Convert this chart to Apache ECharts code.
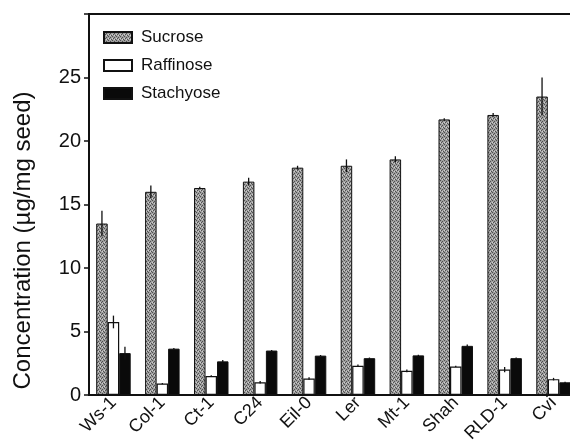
<!DOCTYPE html>
<html lang="en">
<head>
	<meta charset="UTF-8">
	<title>Sugar concentration in seeds</title>
	<script src="https://cdn.jsdelivr.net/npm/echarts@6/dist/echarts.min.js"></script>
	<style>
		html, body { margin: 0; padding: 0; background: #fff; }
	</style>
</head>
<body>
	<div id="main" style="width: 570px;height: 443px"></div>
	<script>
	// accessions along the x axis
	var categories = ['Ws-1', 'Col-1', 'Ct-1', 'C24', 'Eil-0', 'Ler', 'Mt-1', 'Shah', 'RLD-1', 'Cvi'];

	// concentrations (µg/mg seed)
	var sucrose   = [13.5, 16.0, 16.3, 16.8, 17.9, 18.05, 18.55, 21.7, 22.05, 23.5];
	var raffinose = [5.75, 0.9, 1.5, 1.0, 1.3, 2.3, 1.9, 2.25, 2.0, 1.25];
	var stachyose = [3.3, 3.65, 2.65, 3.5, 3.1, 2.9, 3.12, 3.87, 2.9, 1.0];

	// error bar half-lengths
	var sucroseErr   = [1.0, 0.5, 0.1, 0.3, 0.15, 0.5, 0.25, 0.1, 0.15, 1.5];
	var raffinoseErr = [0.5, 0.05, 0.05, 0.1, 0.1, 0.1, 0.1, 0.05, 0.2, 0.1];
	var stachyoseErr = [0.5, 0.05, 0.1, 0.05, 0.05, 0.05, 0.05, 0.1, 0.05, 0.05];

	var yTicks = [0, 5, 10, 15, 20, 25];

	var BAR_W = 11.5;
	var FONT = '"Liberation Sans", Arial, sans-serif';

	// stippled grey fill for sucrose
	function stipple(){
		var c = document.createElement('canvas');
		c.width = 4; c.height = 4;
		var g = c.getContext('2d');
		g.fillStyle = '#9e9e9e';
		g.fillRect(0, 0, 4, 4);
		g.fillStyle = '#4f4f4f';
		g.fillRect(0, 0, 1, 1);
		g.fillRect(2, 1, 1, 1);
		g.fillRect(1, 2, 1, 1);
		g.fillRect(3, 3, 1, 1);
		g.fillStyle = '#cfcfcf';
		g.fillRect(2, 3, 1, 1);
		g.fillRect(0, 2, 1, 1);
		return c;
	}

	function errData(vals, errs){
		return vals.map(function(v, i){ return [i, v, errs[i]]; });
	}

	function errSeries(name, vals, errs, offset){
		return {
			name: name + ' err',
			type: 'custom',
			z: 5,
			silent: true,
			data: errData(vals, errs),
			renderItem: function(params, api){
				var hi = api.coord([api.value(0), api.value(1) + api.value(2)]);
				var lo = api.coord([api.value(0), Math.max(0, api.value(1) - api.value(2))]);
				var x = hi[0] + offset;
				return {
					type: 'line',
					shape: { x1: x, y1: hi[1], x2: x, y2: lo[1] },
					style: { stroke: '#111', lineWidth: 1.3 }
				};
			}
		};
	}

	var option = {
		backgroundColor: '#fff',
		animation: false,
		grid: {
			left: 89, top: 14, width: 489, height: 381,
			outerBoundsMode: 'none', containLabel: false,
			show: true, borderColor: '#111', borderWidth: 2, backgroundColor: 'transparent'
		},
		legend: {
			data: ['Sucrose', 'Raffinose', 'Stachyose'],
			orient: 'vertical',
			left: 103, top: 29, padding: 0,
			itemWidth: 28, itemHeight: 11, itemGap: 11,
			icon: 'rect',
			textStyle: { fontFamily: FONT, fontSize: 17, color: '#111', padding: [0, 0, 0, 4] }
		},
		xAxis: {
			type: 'category',
			data: categories,
			axisLine: { lineStyle: { color: '#111', width: 2 } },
			axisTick: { show: false },
			axisLabel: {
				rotate: 45, margin: 5, interval: 0,
				fontFamily: FONT, fontSize: 18, color: '#111'
			}
		},
		yAxis: {
			type: 'value',
			min: 0, max: 30, interval: 5,
			name: 'Concentration (µg/mg seed)',
			nameLocation: 'middle',
			nameGap: 54,
			nameTextStyle: { fontFamily: FONT, fontSize: 24, color: '#111', padding: [0, 72, 0, 0] },
			axisLine: { show: true, lineStyle: { color: '#111', width: 2 } },
			axisTick: { show: true, inside: false, length: 5, lineStyle: { color: '#111', width: 1.5 } },
			splitLine: { show: false },
			axisLabel: {
				margin: 8,
				fontFamily: FONT, fontSize: 20, color: '#111',
				formatter: function(v){ return yTicks.indexOf(v) >= 0 ? String(v) : ''; }
			}
		},
		series: [
			{
				name: 'Sucrose', type: 'bar', data: sucrose,
				barWidth: BAR_W, barGap: '0%',
				itemStyle: { color: { image: stipple(), repeat: 'repeat' }, borderColor: '#111', borderWidth: 1 }
			},
			{
				name: 'Raffinose', type: 'bar', data: raffinose,
				barWidth: BAR_W, barGap: '0%',
				itemStyle: { color: '#fff', borderColor: '#111', borderWidth: 1.2 }
			},
			{
				name: 'Stachyose', type: 'bar', data: stachyose,
				barWidth: BAR_W, barGap: '0%',
				itemStyle: { color: '#0a0a0a', borderColor: '#111', borderWidth: 1 }
			},
			errSeries('Sucrose', sucrose, sucroseErr, -BAR_W),
			errSeries('Raffinose', raffinose, raffinoseErr, 0),
			errSeries('Stachyose', stachyose, stachyoseErr, BAR_W)
		]
	};

	var myChart = echarts.init(document.getElementById('main'));
	myChart.setOption(option);
	</script>
</body>
</html>
